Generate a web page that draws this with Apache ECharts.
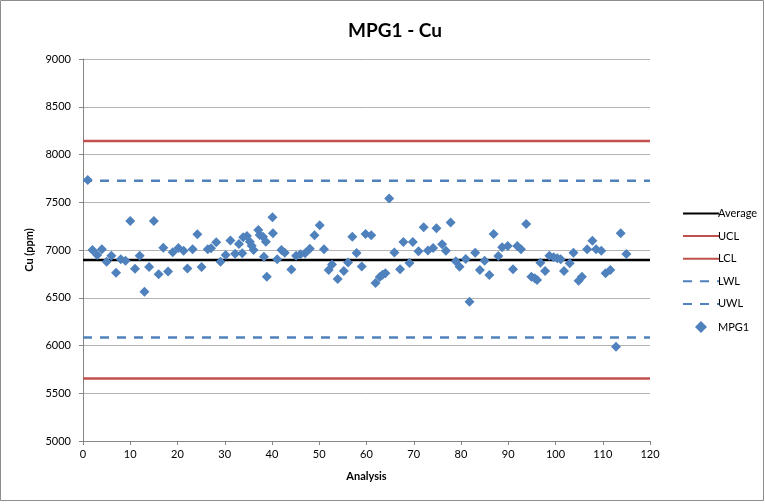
<!DOCTYPE html>
<html>
<head>
<meta charset="utf-8">
<script src="https://cdn.jsdelivr.net/npm/echarts@6/dist/echarts.min.js"></script>
<style>
  html, body { margin: 0; padding: 0; background: #fff; }
  #chart { width: 765px; height: 504px; }
</style>
</head>
<body>
<div id="chart"></div>
<script>
// MPG1 copper results per analysis, with control limits
const analysisNo = [
  1, 2, 3, 4, 5, 6, 7, 8, 9, 10,
  11, 12, 13, 14, 15, 16, 17, 18, 19, 20.2,
  21.3, 22.1, 23.2, 24.2, 25.1, 26.4, 27.1, 28.2, 29.1, 30.2,
  31.2, 32.2, 33, 33.9, 33.7, 34.7, 35.3, 35.7, 36.1, 37.1,
  37.4, 38.1, 38.3, 38.7, 38.9, 40.1, 40.2, 41.1, 42, 42.7,
  44.1, 45.1, 46, 47, 48, 49, 50.1, 51, 52, 52.7,
  53.9, 55.2, 56.1, 57, 57.9, 59, 59.8, 61, 61.9, 62.8,
  63.4, 64, 64.8, 65.9, 67.1, 67.8, 69.1, 69.8, 71, 72.1,
  73, 74.1, 74.8, 76, 76.8, 77.8, 78.9, 79.7, 81, 81.8,
  83, 84, 85, 86, 86.9, 87.9, 88.7, 89.9, 91, 91.9,
  92.7, 93.8, 94.9, 95.6, 96.1, 96.8, 97.8, 98.7, 99.6, 100.4,
  101.1, 101.8, 103, 103.8, 104.9, 105.6, 106.7, 107.8, 108.6, 109.7,
  110.6, 111.6, 112.8, 113.8, 115
];
const cuPpm = [
  7733, 7000, 6948, 7007, 6877, 6940, 6762, 6903, 6888, 7304,
  6804, 6940, 6563, 6822, 7304, 6745, 7024, 6776, 6976, 7022,
  6993, 6806, 7007, 7166, 6822, 7007, 7018, 7080, 6878, 6948,
  7100, 6962, 7063, 7133, 6965, 7147, 7087, 7045, 7000, 7209,
  7157, 7140, 6930, 7087, 6721, 7343, 7176, 6904, 7000, 6970,
  6795, 6940, 6955, 6965, 7012, 7155, 7260, 7007, 6791, 6848,
  6696, 6780, 6869, 7140, 6968, 6828, 7168, 7155, 6655, 6716,
  6740, 6756, 7540, 6974, 6798, 7084, 6864, 7084, 6988, 7237,
  6996, 7022, 7227, 7059, 6992, 7288, 6883, 6825, 6906, 6459,
  6972, 6791, 6888, 6738, 7168, 6938, 7028, 7042, 6798, 7042,
  7007, 7272, 6721, 6704, 6686, 6867, 6780, 6940, 6923, 6913,
  6903, 6780, 6860, 6972, 6679, 6721, 7007, 7097, 7007, 6993,
  6756, 6791, 5988, 7175, 6958
];

// Control chart limits (ppm), drawn across the whole analysis range
const limitSpan = [0, 120];
const averageLevel = 6895;
const uclLevel = 8142;
const lclLevel = 5655;
const uwlLevel = 7725;
const lwlLevel = 6085;

const xTicks = { min: 0, max: 120, interval: 10 };
const yTicks = { min: 5000, max: 9000, interval: 500 };

const RED = '#C0504D';
const BLUE = '#4F81BD';
const FONT = 'Lato, "Open Sans", sans-serif';

function levelLine(name, level, color, dashed) {
  return {
    name: name,
    type: 'line',
    data: limitSpan.map(x => [x, level]),
    symbol: 'none',
    silent: true,
    lineStyle: { color: color, width: 2.5, type: dashed ? [9, 8] : 'solid' },
    itemStyle: { color: color },
    z: 2
  };
}

// line entries show only their stroke in the legend, no marker
const lineOnly = name => ({ name: name, itemStyle: { opacity: 0 } });
// square-proportioned diamond so the marker keeps its shape in the wide legend slot
const DIAMOND_ICON = 'path://M0,5L5,0L10,5L5,10Z';

const chart = echarts.init(document.getElementById('chart'), null, { renderer: 'canvas' });
chart.setOption({
  animation: false,
  backgroundColor: '#fff',
  title: {
    text: 'MPG1 - Cu',
    left: 390,
    textAlign: 'center',
    top: 16,
    textStyle: { fontFamily: FONT, fontSize: 19, fontWeight: 'bold', color: '#000' }
  },
  graphic: [{
    type: 'rect',
    shape: { x: 0.5, y: 0.5, width: 763, height: 500 },
    style: { fill: 'none', stroke: '#8c8c8c', lineWidth: 1 },
    silent: true
  }],
  grid: { left: 83, top: 59, right: 115, bottom: 63 },
  legend: {
    orient: 'vertical',
    left: 677,
    top: 203,
    itemWidth: 36,
    itemHeight: 12,
    itemGap: 11.6,
    symbolKeepAspect: true,
    textStyle: { fontFamily: FONT, fontSize: 11, color: '#000', padding: [0, 0, 0, -6] },
    data: [
      lineOnly('Average'), lineOnly('UCL'), lineOnly('LCL'),
      lineOnly('LWL'), lineOnly('UWL'),
      { name: 'MPG1', icon: DIAMOND_ICON }
    ]
  },
  xAxis: {
    type: 'value',
    name: 'Analysis',
    nameLocation: 'middle',
    nameGap: 30,
    nameTextStyle: { fontFamily: FONT, fontSize: 11, fontWeight: 'bold', color: '#000' },
    min: xTicks.min, max: xTicks.max, interval: xTicks.interval,
    axisLine: { lineStyle: { color: '#868686', width: 1 } },
    axisTick: { show: true, inside: false, length: 4, lineStyle: { color: '#868686' } },
    axisLabel: { fontFamily: FONT, fontSize: 11, color: '#000', margin: 8 },
    splitLine: { show: false }
  },
  yAxis: {
    type: 'value',
    name: 'Cu (ppm)',
    nameLocation: 'middle',
    nameGap: 46,
    nameRotate: 90,
    nameTextStyle: { fontFamily: FONT, fontSize: 11, fontWeight: 'bold', color: '#000' },
    min: yTicks.min, max: yTicks.max, interval: yTicks.interval,
    axisLine: { show: true, lineStyle: { color: '#868686', width: 1 } },
    axisTick: { show: true, inside: false, length: 4, lineStyle: { color: '#868686' } },
    axisLabel: { fontFamily: FONT, fontSize: 11, color: '#000', margin: 12, formatter: v => String(v) },
    splitLine: { show: true, lineStyle: { color: '#b3b3b3', width: 1 } }
  },
  series: [
    levelLine('Average', averageLevel, '#000', false),
    levelLine('UCL', uclLevel, RED, false),
    levelLine('LCL', lclLevel, RED, false),
    levelLine('LWL', lwlLevel, BLUE, true),
    levelLine('UWL', uwlLevel, BLUE, true),
    {
      name: 'MPG1',
      type: 'scatter',
      data: analysisNo.map((x, i) => [x, cuPpm[i]]),
      symbol: 'diamond',
      symbolSize: 10,
      itemStyle: { color: BLUE, opacity: 1 },
      z: 3
    }
  ]
});
</script>
</body>
</html>
